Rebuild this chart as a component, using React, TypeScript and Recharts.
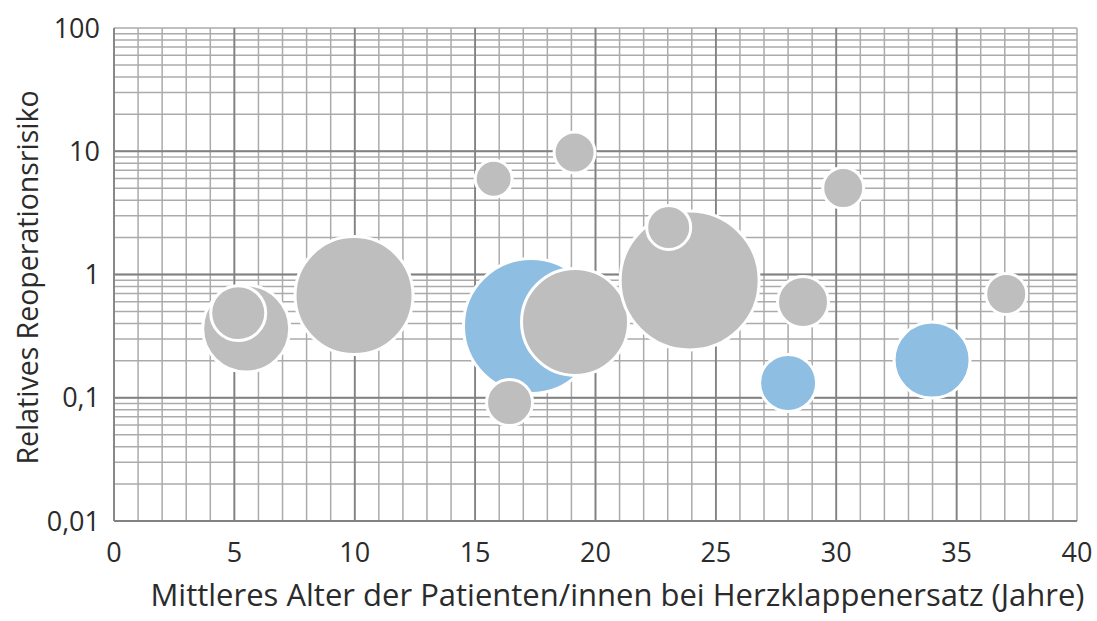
import React from 'react';
import { ScatterChart, Scatter, XAxis, YAxis, ZAxis, CartesianGrid } from 'recharts';

// values: mean age (years), relative reoperation risk, bubble size
const grayAge = [19.15, 23.91, 9.97, 5.49, 5.16, 28.62, 16.43, 23.04, 19.13, 30.29, 37.06, 15.77];
const grayRisk = [0.412, 0.894, 0.675, 0.364, 0.486, 0.598, 0.0915, 2.41, 9.77, 5.03, 0.695, 5.98];
const graySize = [2862, 4830, 3481, 1892, 756, 650, 529, 484, 420, 420, 420, 342];

const blueAge = [17.32, 28.0, 33.98];
const blueRisk = [0.382, 0.132, 0.202];
const blueSize = [4556, 812, 1444];

const xTicks = Array.from({ length: 41 }, (_, i) => i);
const xMajor = [5, 10, 15, 20, 25, 30, 35];
const yTicks = [0.01, 0.02, 0.03, 0.04, 0.05, 0.06, 0.07, 0.08, 0.09,
  0.1, 0.2, 0.3, 0.4, 0.5, 0.6, 0.7, 0.8, 0.9,
  1, 2, 3, 4, 5, 6, 7, 8, 9,
  10, 20, 30, 40, 50, 60, 70, 80, 90, 100];
const yMajor = [0.1, 1, 10];
const yLabels: Record<string, string> = { '0.01': '0,01', '0.1': '0,1', '1': '1', '10': '10', '100': '100' };

const grayData = grayAge.map((x, i) => ({ x, y: grayRisk[i], z: graySize[i] }));
const blueData = blueAge.map((x, i) => ({ x, y: blueRisk[i], z: blueSize[i] }));

const FONT = '"Open Sans", sans-serif';
const TEXT = '#2b2b2b';

// axis scale may be missing on the first pass, a d3 function, or a wrapper with map()
const majorPx = (axis: any, values: number[]): number[] => {
  const s = axis && axis.scale;
  if (typeof s === 'function') return values.map((v) => s(v));
  if (s && typeof s.map === 'function') return values.map((v) => s.map(v));
  return [];
};

const YLabel = (props: any) => {
  const vb = props.viewBox || { x: 0, y: 28, width: 114, height: 493 };
  const cx = vb.x + 38;
  const cy = vb.y + vb.height / 2 + 3;
  return (
    <text
      x={cx}
      y={cy}
      transform={`rotate(-90 ${cx} ${cy})`}
      textAnchor="middle"
      fill={TEXT}
      fontSize={28.5}
      fontFamily={FONT}
    >
      Relatives Reoperationsrisiko
    </text>
  );
};

export default function App() {
  return (
    <div style={{ position: 'absolute', left: 0, top: 0, width: 1097, height: 621, background: '#fff' }}>
      <ScatterChart width={1097} height={621} margin={{ top: 28, right: 20, bottom: 0, left: 0 }}>
        <CartesianGrid stroke="#ababab" strokeWidth={1.5} />
        <CartesianGrid
          stroke="#828282"
          strokeWidth={1.8}
          verticalCoordinatesGenerator={({ xAxis }: any) => majorPx(xAxis, xMajor)}
          horizontalCoordinatesGenerator={({ yAxis }: any) => majorPx(yAxis, yMajor)}
        />
        <XAxis
          type="number"
          dataKey="x"
          domain={[0, 40]}
          ticks={xTicks}
          interval={0}
          height={100}
          tickLine={false}
          tickMargin={16}
          axisLine={{ stroke: '#828282', strokeWidth: 1.8 }}
          tickFormatter={(v: number) => (v % 5 === 0 ? String(v) : '')}
          tick={{ fill: TEXT, fontSize: 27, fontFamily: FONT }}
          label={{
            value: 'Mittleres Alter der Patienten/innen bei Herzklappenersatz (Jahre)',
            position: 'insideBottom',
            offset: 15,
            dx: 22,
            fill: TEXT,
            fontSize: 31,
            fontFamily: FONT,
          }}
        />
        <YAxis
          type="number"
          dataKey="y"
          scale="log"
          domain={[0.01, 100]}
          ticks={yTicks}
          interval={0}
          width={114}
          tickLine={false}
          tickMargin={8}
          axisLine={{ stroke: '#828282', strokeWidth: 1.8 }}
          tickFormatter={(v: number) => yLabels[String(v)] ?? ''}
          tick={{ fill: TEXT, fontSize: 27, fontFamily: FONT }}
          label={<YLabel />}
        />
        <ZAxis type="number" dataKey="z" domain={[0, 5000]} range={[0, 5000 * Math.PI]} />
        <Scatter data={blueData} fill="#8ebfe3" stroke="#ffffff" strokeWidth={3} isAnimationActive={false} />
        <Scatter data={grayData} fill="#bebebe" stroke="#ffffff" strokeWidth={3} isAnimationActive={false} />
      </ScatterChart>
    </div>
  );
}
